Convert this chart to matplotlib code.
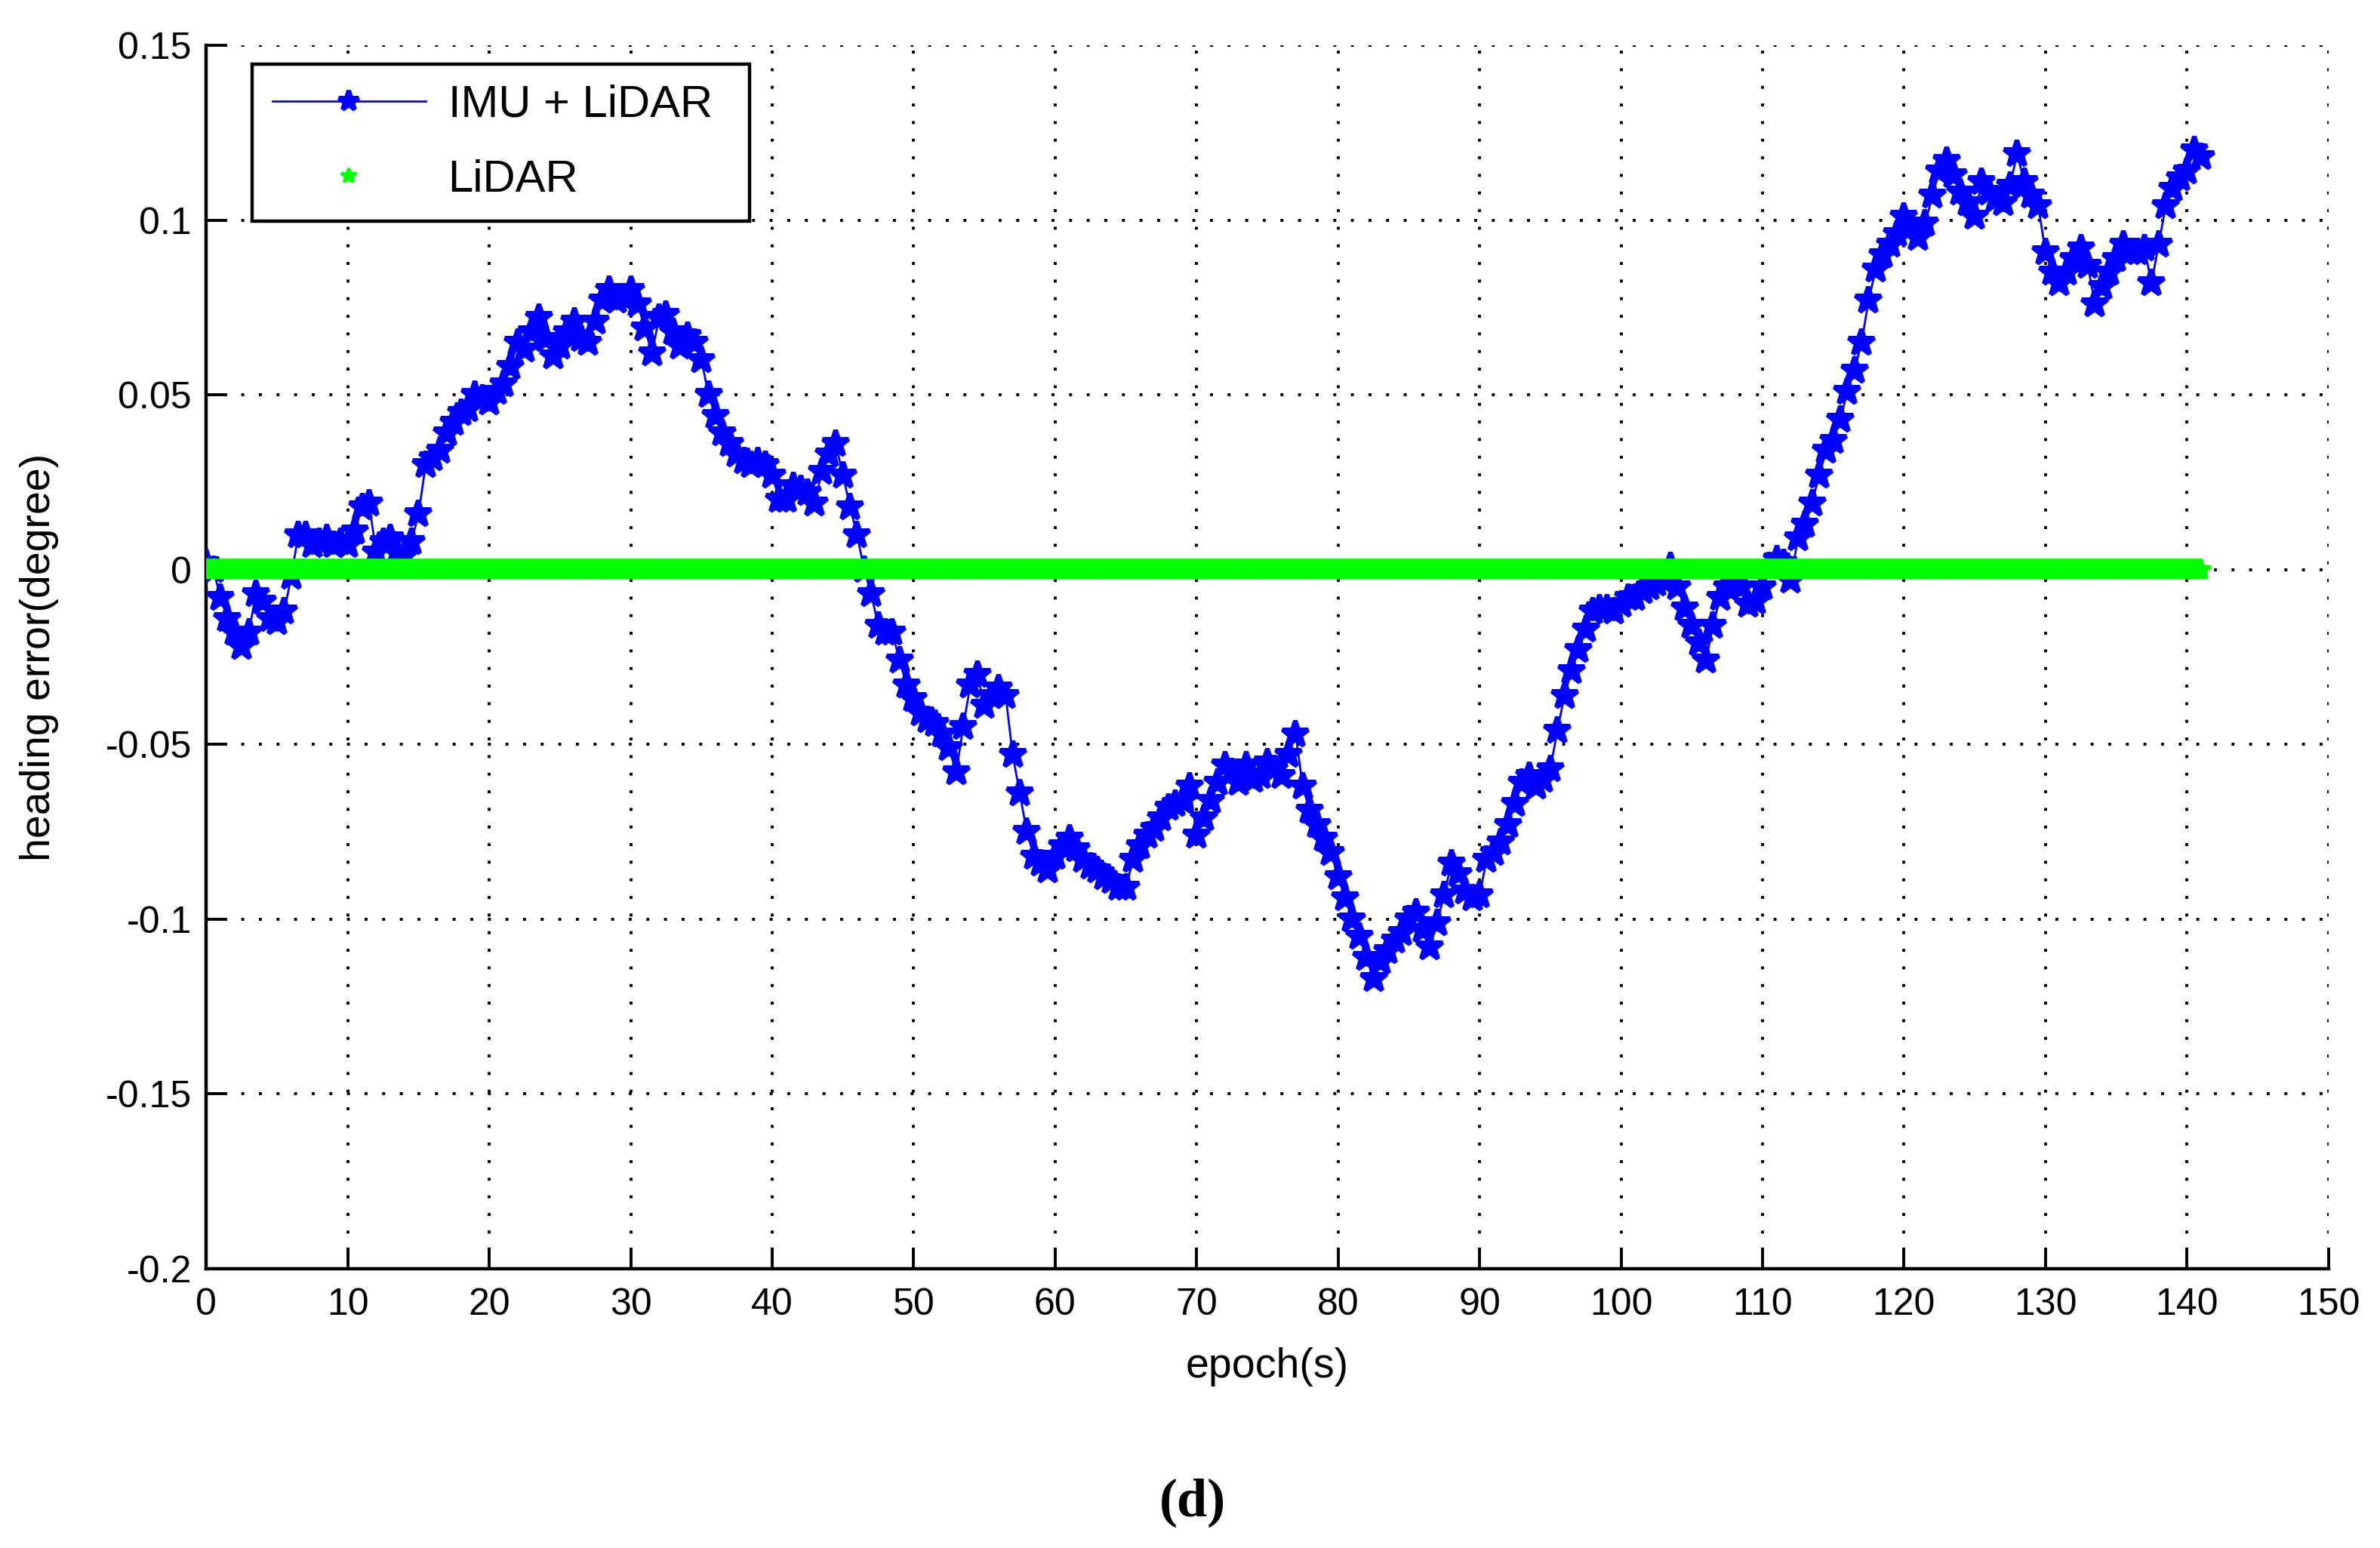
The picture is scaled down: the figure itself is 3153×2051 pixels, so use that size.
import numpy as np
import matplotlib
matplotlib.use("Agg")
import matplotlib.pyplot as plt

step = 0.5
imu_lidar = [
    0.002, 0.000, -0.008, -0.014, -0.018, -0.022, -0.018, -0.007, -0.009, -0.014,
    -0.015, -0.012, -0.002, 0.010, 0.010, 0.007, 0.008, 0.009, 0.007, 0.008,
    0.007, 0.011, 0.018, 0.019, 0.005, 0.008, 0.009, 0.005, 0.004, 0.008,
    0.016, 0.030, 0.032, 0.034, 0.039, 0.042, 0.045, 0.046, 0.050, 0.049,
    0.048, 0.051, 0.053, 0.058, 0.065, 0.063, 0.068, 0.072, 0.066, 0.061,
    0.064, 0.068, 0.071, 0.066, 0.065, 0.071, 0.077, 0.080, 0.077, 0.078,
    0.080, 0.076, 0.069, 0.062, 0.072, 0.073, 0.068, 0.064, 0.067, 0.065,
    0.060, 0.050, 0.044, 0.039, 0.036, 0.033, 0.031, 0.030, 0.031, 0.030,
    0.027, 0.020, 0.020, 0.024, 0.023, 0.022, 0.019, 0.028, 0.033, 0.036,
    0.027, 0.018, 0.010, 0.000, -0.007, -0.016, -0.018, -0.018, -0.026, -0.033,
    -0.037, -0.041, -0.043, -0.044, -0.047, -0.051, -0.058, -0.045, -0.033, -0.030,
    -0.039, -0.036, -0.034, -0.036, -0.053, -0.064, -0.075, -0.082, -0.084, -0.086,
    -0.082, -0.079, -0.077, -0.080, -0.083, -0.085, -0.086, -0.088, -0.089, -0.091,
    -0.091, -0.083, -0.079, -0.076, -0.074, -0.071, -0.068, -0.067, -0.066, -0.062,
    -0.076, -0.071, -0.066, -0.061, -0.056, -0.058, -0.061, -0.056, -0.060, -0.059,
    -0.055, -0.057, -0.059, -0.053, -0.047, -0.062, -0.069, -0.073, -0.077, -0.081,
    -0.088, -0.094, -0.100, -0.105, -0.111, -0.117, -0.112, -0.109, -0.106, -0.104,
    -0.100, -0.098, -0.103, -0.108, -0.101, -0.093, -0.084, -0.087, -0.092, -0.094,
    -0.093, -0.083, -0.081, -0.078, -0.073, -0.067, -0.061, -0.059, -0.062, -0.060,
    -0.057, -0.046, -0.036, -0.029, -0.023, -0.017, -0.012, -0.011, -0.011, -0.012,
    -0.010, -0.008, -0.008, -0.006, -0.005, -0.004, -0.003, 0.001, -0.005, -0.011,
    -0.016, -0.021, -0.026, -0.016, -0.008, -0.005, -0.004, -0.005, -0.010, -0.009,
    -0.005, 0.001, 0.003, 0.002, -0.003, 0.009, 0.013, 0.019, 0.027, 0.034,
    0.037, 0.043, 0.051, 0.057, 0.065, 0.077, 0.086, 0.090, 0.093, 0.096,
    0.101, 0.098, 0.095, 0.099, 0.107, 0.114, 0.117, 0.113, 0.108, 0.105,
    0.101, 0.111, 0.108, 0.106, 0.105, 0.110, 0.119, 0.111, 0.107, 0.104,
    0.091, 0.085, 0.082, 0.085, 0.089, 0.092, 0.087, 0.076, 0.081, 0.085,
    0.089, 0.093, 0.091, 0.091, 0.092, 0.082, 0.093, 0.104, 0.109, 0.112,
    0.114, 0.120, 0.118,
]
epochs = np.arange(len(imu_lidar)) * step

# LiDAR only reference: zero error over the whole run (dense samples)
lidar_epochs = np.arange(0, 141.05, 0.1)
lidar = np.zeros(len(lidar_epochs))

xticks = [0, 10, 20, 30, 40, 50, 60, 70, 80, 90, 100, 110, 120, 130, 140, 150]
yticks = [0.15, 0.1, 0.05, 0, -0.05, -0.1, -0.15, -0.2]
ytick_labels = ["0.15", "0.1", "0.05", "0", "-0.05", "-0.1", "-0.15", "-0.2"]

plt.rcParams['font.family'] = ['Liberation Sans', 'DejaVu Sans']

fig = plt.figure(figsize=(15.765, 10.255), dpi=200)
ax = fig.add_axes([0.0867, 0.1804, 0.8916, 0.7902])

ax.plot(epochs, imu_lidar, color=(0, 0, 1), lw=1.0, marker='*', ms=13,
        mew=2.2, label='IMU + LiDAR', zorder=3)
ax.plot(lidar_epochs, lidar, color=(0, 1, 0), lw=0, marker='*', ms=10,
        mew=1.5, label='LiDAR', zorder=4)

ax.set_xlim(0, 150)
ax.set_ylim(-0.2, 0.15)
ax.set_xticks(xticks)
ax.set_yticks(yticks)
ax.set_yticklabels(ytick_labels)
ax.tick_params(direction='in', length=10, width=1.4, labelsize=18, color='black')
ax.tick_params(axis='x', pad=9)
ax.tick_params(axis='y', pad=7)
ax.grid(True, color='black', linestyle=(0, (1, 5)), lw=1.4)
ax.set_axisbelow(True)
for side in ['top', 'right']:
    ax.spines[side].set_visible(False)
for side in ['left', 'bottom']:
    ax.spines[side].set_linewidth(1.6)

ax.set_xlabel('epoch(s)', fontsize=20, labelpad=12)
ax.set_ylabel('heading error(degree)', fontsize=20, labelpad=22)

leg = ax.legend(loc='upper left', bbox_to_anchor=(0.0215, 0.985, 0.2344, 0),
                mode='expand', borderaxespad=0, fontsize=21.5, fancybox=False,
                edgecolor='black', framealpha=1, handlelength=3.4,
                handletextpad=0.5, labelspacing=0.75, borderpad=0.45,
                markerscale=0.75)
leg.get_frame().set_linewidth(1.6)

fig.text(0.501, 0.029, '(d)', fontsize=26, fontweight='bold',
         family=['Liberation Serif', 'DejaVu Serif'], ha='center', va='center')

fig.savefig('out.png', dpi=200)
